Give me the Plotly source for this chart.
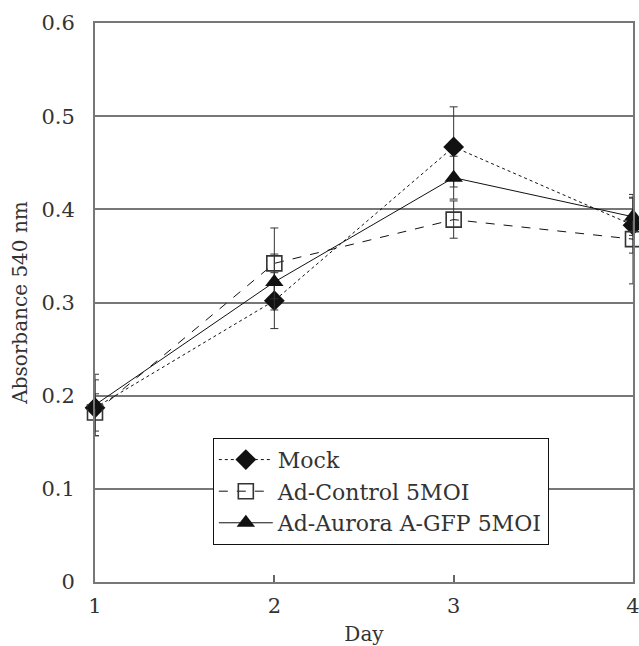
import plotly.graph_objects as go

days = [1, 2, 3, 4]
mock = [0.187, 0.302, 0.467, 0.383]
mock_err = [0.03, 0.03, 0.043, 0.03]
control = [0.182, 0.342, 0.389, 0.368]
control_err = [0.02, 0.038, 0.02, 0.048]
aurora = [0.190, 0.322, 0.434, 0.392]
aurora_err = [0.033, 0.03, 0.023, 0.02]
names = ["Mock", "Ad\u2010Control 5MOI", "Ad\u2010Aurora A\u2010GFP 5MOI"]
ytickvals = [0, 0.1, 0.2, 0.3, 0.4, 0.5, 0.6]
yticktext = ["0", "0.1", "0.2", "0.3", "0.4", "0.5", "0.6"]

FONT = "DejaVu Serif"
TXT = "#333"

fig = go.Figure()
series = [
    (mock, mock_err, names[0], "dot", dict(symbol="diamond", size=16, color="#111")),
    (control, control_err, names[1], "dash", dict(symbol="square-open", size=15, color="#333", line=dict(width=1.6, color="#333"))),
    (aurora, aurora_err, names[2], "solid", dict(symbol="triangle-up", size=16, color="#111")),
]
for vals, errs, nm, dash, mk in series:
    fig.add_trace(go.Scatter(
        x=days, y=vals, name=nm, mode="lines+markers",
        line=dict(color="#111", width=1, dash=dash),
        marker=mk,
        error_y=dict(type="data", array=errs, color="#333", thickness=1, width=4),
        cliponaxis=False,
    ))

fig.update_layout(
    width=639, height=646,
    margin=dict(l=95, r=6, t=23, b=64),
    paper_bgcolor="white", plot_bgcolor="white",
    font=dict(family=FONT, size=21, color=TXT),
    showlegend=True,
    legend=dict(
        x=0.219, y=0.258, xanchor="left", yanchor="top",
        bgcolor="white", bordercolor="#111", borderwidth=1,
        font=dict(family=FONT, size=22, color=TXT),
        itemwidth=54,
    ),
    xaxis=dict(
        range=[1, 4], tickvals=days, ticktext=["1", "2", "3", "4"],
        ticks="inside", ticklen=7, tickcolor="#666", tickwidth=1.5,
        showgrid=False, zeroline=False, automargin=False,
        showline=True, linecolor="#777", linewidth=2, mirror=True,
        ticklabeloverflow="allow", ticklabelstandoff=4,
        title=dict(text="Day", font=dict(family=FONT, size=20, color=TXT), standoff=12),
        tickfont=dict(family=FONT, size=21, color=TXT),
    ),
    yaxis=dict(
        range=[0, 0.6], tickvals=ytickvals, ticktext=yticktext,
        showgrid=True, gridcolor="#777", gridwidth=2,
        zeroline=False, automargin=False,
        showline=True, linecolor="#777", linewidth=2, mirror=True,
        ticks="", ticklabelstandoff=14,
        title=dict(text="Absorbance 540 nm", font=dict(family=FONT, size=20, color=TXT), standoff=8),
        tickfont=dict(family=FONT, size=21, color=TXT),
    ),
)

fig.write_html(
    "out.html",
    config={"displayModeBar": False},
    post_script="document.body.style.margin='0px';document.body.style.overflow='hidden';",
)
